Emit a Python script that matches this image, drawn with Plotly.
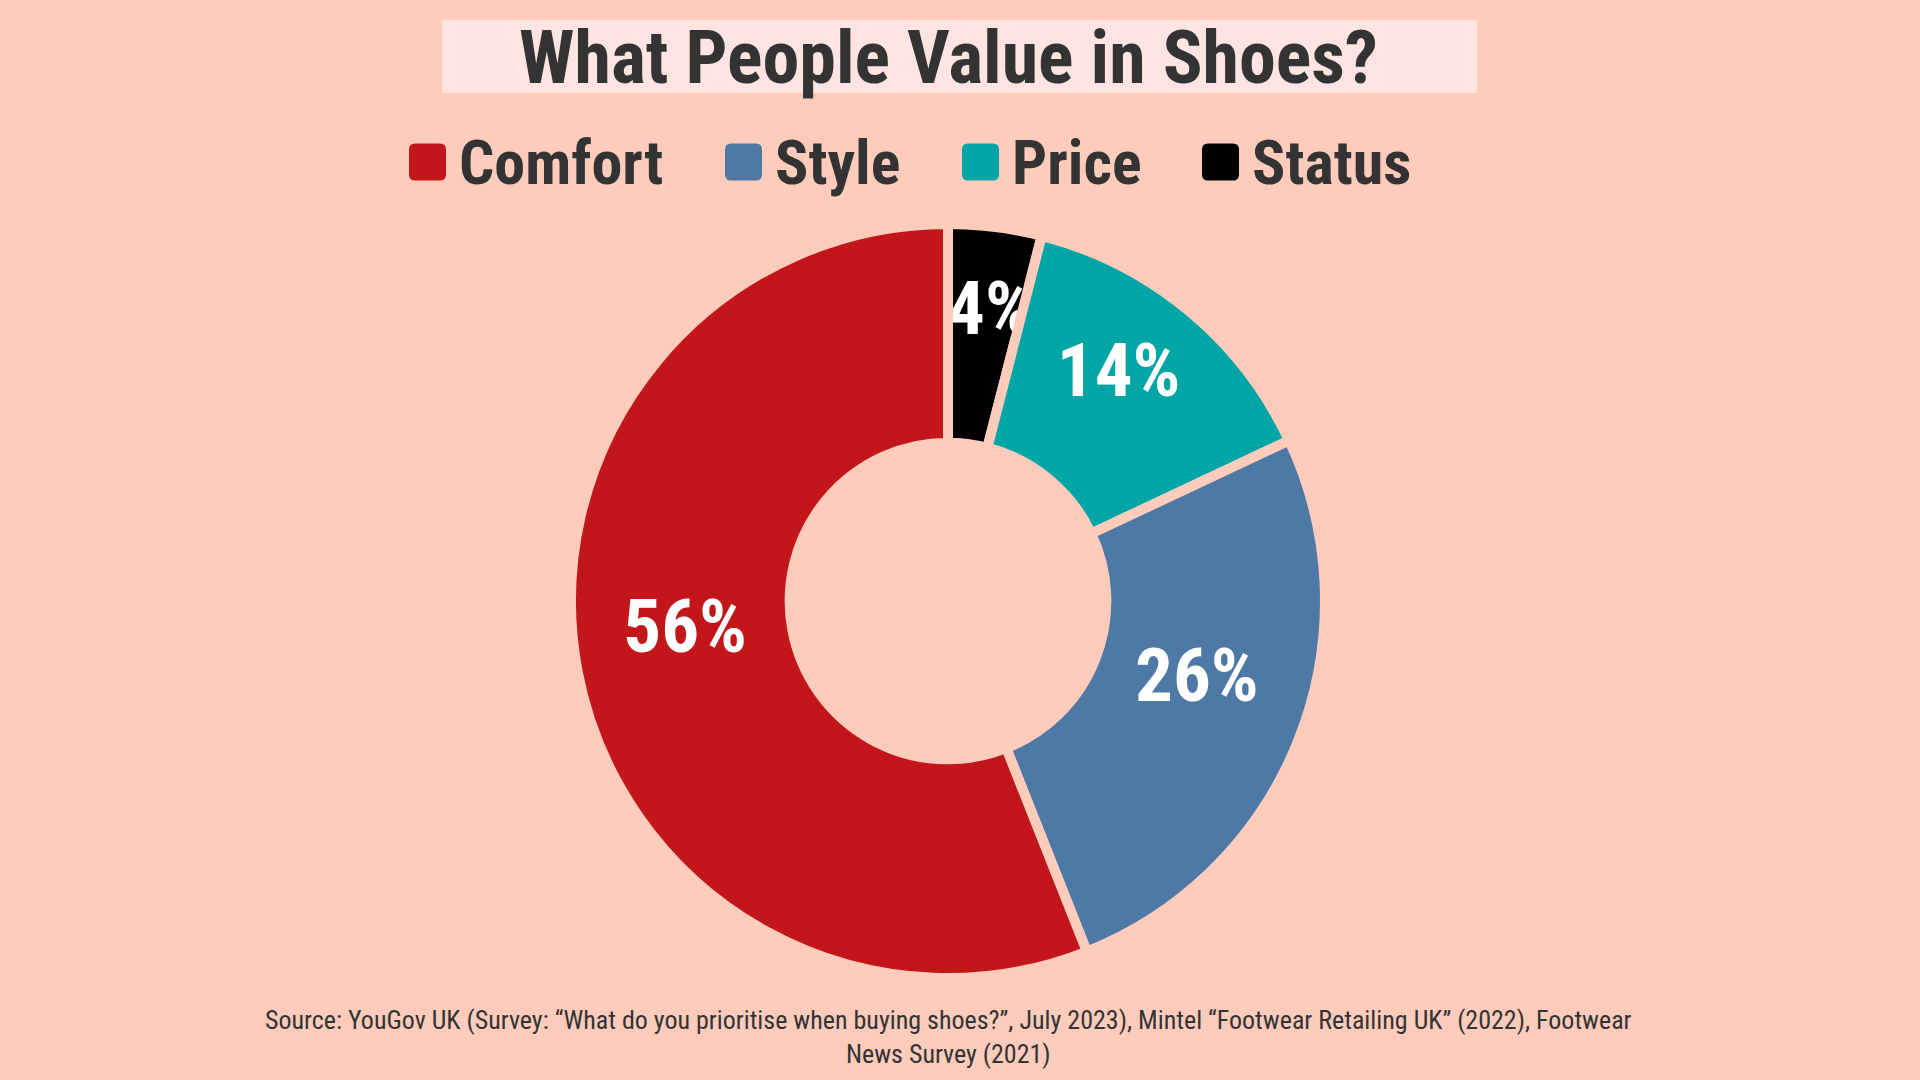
import plotly.graph_objects as go

# ---- data ----
categories = ["Comfort", "Style", "Price", "Status"]
shares = [56, 26, 14, 4]
colors = ["#C3161B", "#4E79A7", "#00A6A6", "#000000"]
title_text = "What People Value in Shoes?"
source_text = ("Source: YouGov UK (Survey: \u201cWhat do you prioritise when buying shoes?\u201d, July 2023), "
               "Mintel \u201cFootwear Retailing UK\u201d (2022), Footwear<br>News Survey (2021)")

# ---- layout constants ----
W, H = 1920, 1080
BG = "#FFCCBC"
TXT = "#333333"
FONT = "Roboto Condensed, Liberation Sans Narrow, DejaVu Sans Condensed, Roboto, sans-serif"
CX, CY, R = 948, 601, 377
LEGEND_X = [409, 725, 962, 1202]   # left edge of each legend swatch (px)
LEGEND_Y = 162
SW = 37

def px(x):
    return x / W

def py(y):
    return 1 - y / H

outline = ("-4px -4px 0 #000, 4px -4px 0 #000, -4px 4px 0 #000, 4px 4px 0 #000, "
           "0 -6px 0 #000, 0 6px 0 #000, -6px 0 0 #000, 6px 0 0 #000, "
           "-6px -3px 0 #000, 6px 3px 0 #000, -6px 3px 0 #000, 6px -3px 0 #000")
# label templates: invisible spacer lines nudge the label block up / down inside its slice
TPL_UP = "%{value}%<br><sup><span style='font-size:8px'>\u00a0</span></sup>"
TPL_DOWN = "<span style='font-size:56px'>\u00a0</span><br>%{value}%"

# pie is drawn clockwise from 12 o'clock, so feed slices in reverse legend order
pie_labels = categories[::-1]
pie_values = shares[::-1]
pie_colors = colors[::-1]
pie_shadows = [outline if c == "Status" else "none" for c in pie_labels]
pie_templates = [TPL_DOWN if c == "Status" else TPL_UP for c in pie_labels]

fig = go.Figure(go.Pie(
    labels=pie_labels,
    values=pie_values,
    sort=False,
    direction="clockwise",
    rotation=0,
    hole=0.42,
    marker=dict(colors=pie_colors, line=dict(color=BG, width=10)),
    texttemplate=pie_templates,
    textposition="inside",
    insidetextorientation="horizontal",
    textfont=dict(family=FONT, size=75, color="white", weight=700, shadow=pie_shadows),
    showlegend=False,
    domain=dict(x=[px(CX - R), px(CX + R)], y=[py(CY + R), py(CY - R)]),
    hoverinfo="label+percent",
))

shapes = [dict(type="rect", xref="paper", yref="paper",
               x0=px(442), x1=px(1477), y0=py(93), y1=py(20),
               fillcolor="#FFE4E1", line=dict(width=0), layer="below")]
annotations = [
    dict(text="<b>" + title_text + "</b>", x=px(CX), y=py(57), xref="paper", yref="paper",
         xanchor="center", yanchor="middle", showarrow=False,
         font=dict(family=FONT, size=74, color=TXT)),
    dict(text=source_text, x=px(CX), y=py(1037), xref="paper", yref="paper",
         xanchor="center", yanchor="middle", showarrow=False,
         font=dict(family=FONT, size=26, color=TXT)),
]

h, r = SW / 2, 6
rr = (f"M {-h+r},{-h} L {h-r},{-h} Q {h},{-h} {h},{-h+r} L {h},{h-r} Q {h},{h} {h-r},{h} "
      f"L {-h+r},{h} Q {-h},{h} {-h},{h-r} L {-h},{-h+r} Q {-h},{-h} {-h+r},{-h} Z")
for lab, col, lx in zip(categories, colors, LEGEND_X):
    shapes.append(dict(type="path", xref="paper", yref="paper",
                       xsizemode="pixel", ysizemode="pixel",
                       xanchor=px(lx + h), yanchor=py(LEGEND_Y),
                       path=rr, fillcolor=col, line=dict(width=0)))
    annotations.append(dict(text="<b>" + lab + "</b>", x=px(lx + SW + 11), y=py(LEGEND_Y + 1),
                            xref="paper", yref="paper", xanchor="left", yanchor="middle",
                            showarrow=False, font=dict(family=FONT, size=62, color=TXT)))

fig.update_layout(
    width=W, height=H,
    margin=dict(l=0, r=0, t=0, b=0),
    paper_bgcolor=BG, plot_bgcolor=BG,
    uniformtext=dict(minsize=75, mode="show"),
    shapes=shapes, annotations=annotations,
)

fig.write_html("out.html", post_script="document.body.style.margin='0';",
               config={"displayModeBar": False})
